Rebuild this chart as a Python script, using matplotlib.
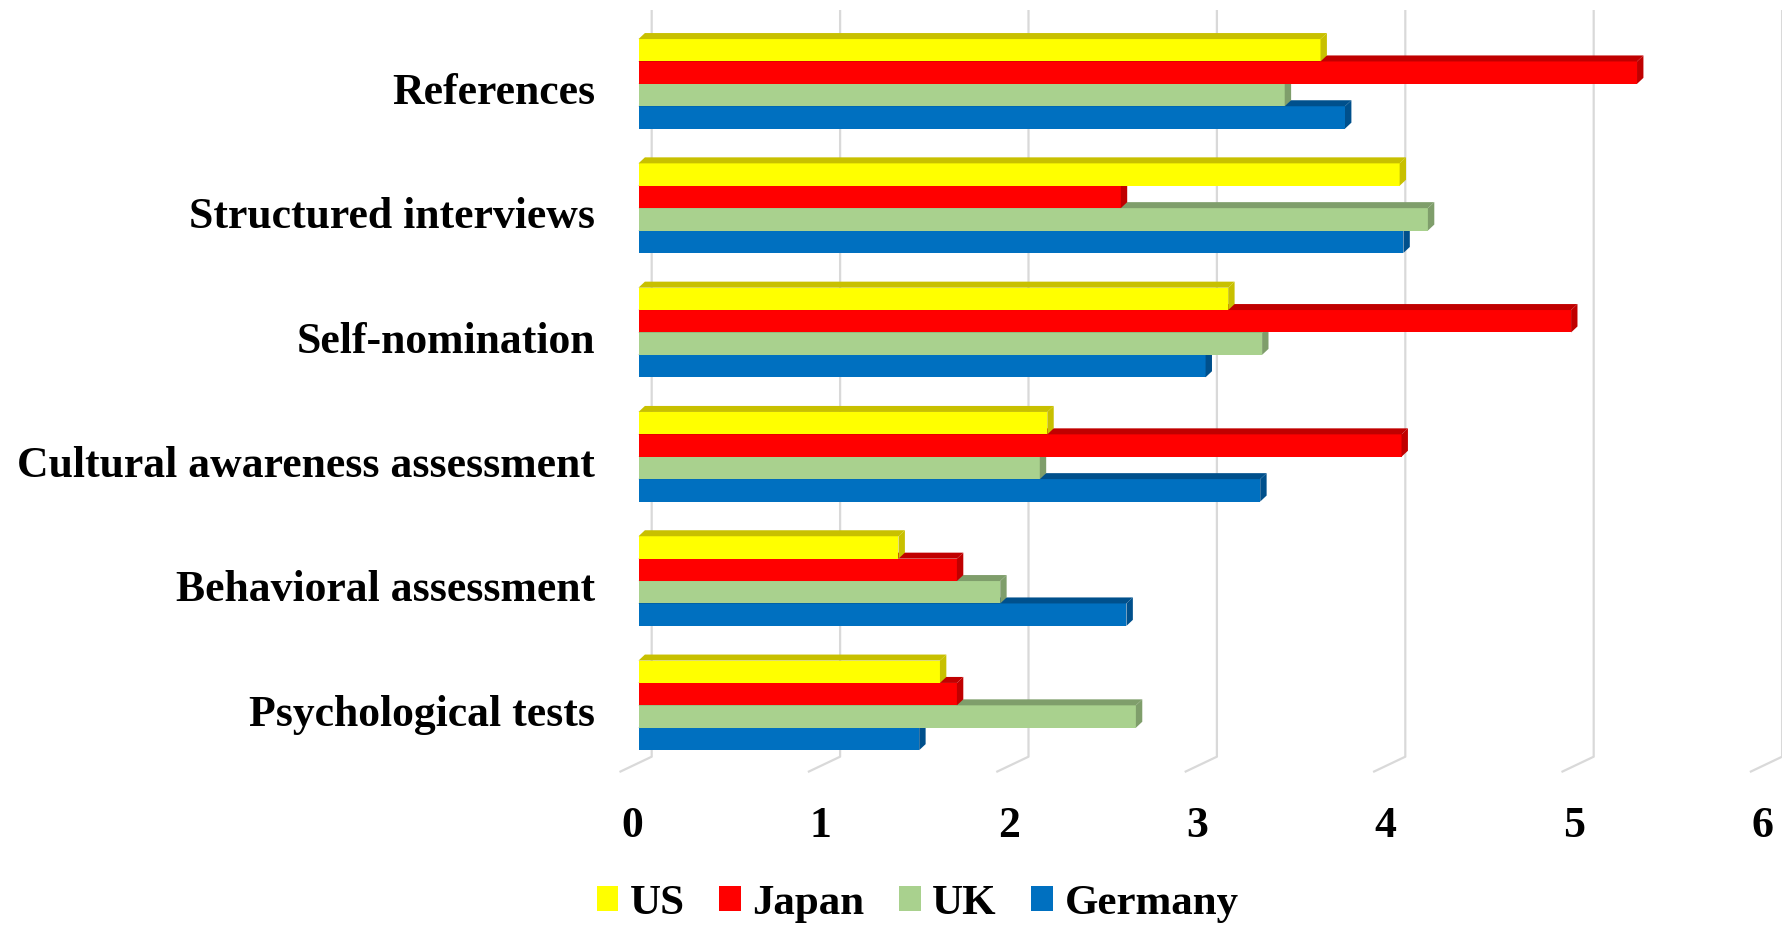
import matplotlib
matplotlib.use("Agg")
import matplotlib.pyplot as plt
from matplotlib.patches import Polygon, Patch

# data (top group first)
categories = ["References", "Structured interviews", "Self-nomination",
              "Cultural awareness assessment", "Behavioral assessment",
              "Psychological tests"]
series = ["US", "Japan", "UK", "Germany"]
us = [3.62, 4.04, 3.13, 2.17, 1.38, 1.60]
japan = [5.30, 2.56, 4.95, 4.05, 1.69, 1.69]
uk = [3.43, 4.19, 3.31, 2.13, 1.92, 2.64]
germany = [3.75, 4.06, 3.01, 3.30, 2.59, 1.49]
ticks = [0, 1, 2, 3, 4, 5, 6]

front_colors = ["#FFFF00", "#FF0000", "#A9D18E", "#0070C0"]
dark_colors = ["#C8C000", "#C00000", "#7F9E6B", "#00508C"]

plt.rcParams["font.family"] = ["Liberation Serif", "DejaVu Serif"]
plt.rcParams["font.weight"] = "bold"

W, H = 1783, 925
fig = plt.figure(figsize=(W / 100, H / 100), dpi=100)
ax = fig.add_axes([0, 0, 1, 1])
ax.axis("off")

# pixel geometry of the plot
x0_px, unit_px = 638.5, 188.4
y0_px, pitch_px = 83.85, 124.3
ax.set_xlim(-x0_px / unit_px, (W - x0_px) / unit_px)
ax.set_ylim((H - y0_px) / pitch_px, -y0_px / pitch_px)

h = 22.4 / pitch_px           # bar thickness
dx = 6.4 / unit_px            # depth offset in x
dy = 6.0 / pitch_px           # depth offset in y

# gridlines with the slanted floor part
for v in ticks:
    xb = v + 13.2 / unit_px
    xf = v - 19.0 / unit_px
    ax.plot([xb, xb, xf],
            [(10 - y0_px) / pitch_px, (756.7 - y0_px) / pitch_px, (772 - y0_px) / pitch_px],
            color="#D9D9D9", lw=1.6, zorder=1, solid_capstyle="butt")
    ax.text(v - 0.035, (836.7 - y0_px) / pitch_px, str(v), ha="center",
            va="baseline", fontsize=31.5, fontweight="bold")

data = [us, japan, uk, germany]
# draw Germany first so bars above cover the top faces below
for k in range(len(series) - 1, -1, -1):
    vals = data[k]
    ys = [i - 2 * h + (k + 0.5) * h for i in range(len(categories))]
    ax.barh(ys, vals, height=h, left=0, color=front_colors[k], zorder=2 + (3 - k))
    for y, v in zip(ys, vals):
        yt = y - h / 2
        yb = y + h / 2
        top = Polygon([(0, yt), (v, yt), (v + dx, yt - dy), (dx, yt - dy)],
                      closed=True, facecolor=dark_colors[k], edgecolor="none",
                      zorder=2 + (3 - k))
        side = Polygon([(v, yt), (v + dx, yt - dy), (v + dx, yb - dy), (v, yb)],
                       closed=True, facecolor=dark_colors[k], edgecolor="none",
                       zorder=2 + (3 - k))
        ax.add_patch(top)
        ax.add_patch(side)

# category labels
for i, name in enumerate(categories):
    ax.text((595 - x0_px) / unit_px, i + 20.2 / pitch_px, name, ha="right",
            va="baseline", fontsize=31.5, fontweight="bold")

handles = [Patch(facecolor=c, edgecolor="none") for c in front_colors]
fig.legend(handles, series, loc="center", bbox_to_anchor=(917.5 / W, 1 - 904 / H),
           ncol=4, frameon=False, handlelength=0.5, handleheight=0.53,
           handletextpad=0.27, columnspacing=0.8, prop={"weight": "bold", "size": 31})

fig.savefig("out.png", dpi=100)
